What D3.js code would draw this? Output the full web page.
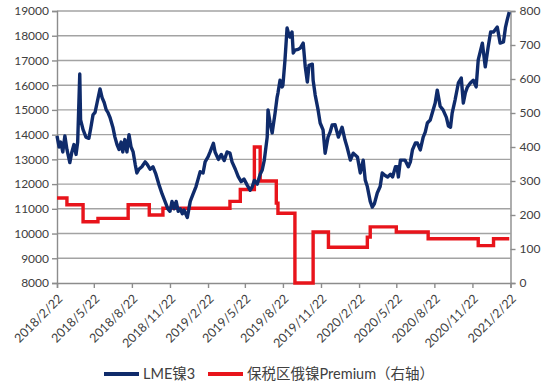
<!DOCTYPE html>
<html>
<head>
<meta charset="utf-8">
<script src="https://cdn.jsdelivr.net/npm/d3@7"></script>
<style>
  body { margin: 0; background: #fff; }
  text { font-family: Lato, "Noto Sans CJK SC", sans-serif; fill: #404040; }
</style>
</head>
<body>
<script>
// LME nickel 3M price (left axis)
var lmeDates = ["2018-02-22","2018-02-27","2018-03-03","2018-03-08","2018-03-13","2018-03-18","2018-03-25","2018-03-30",
  "2018-04-04","2018-04-09","2018-04-13","2018-04-18","2018-04-20","2018-04-26","2018-05-03","2018-05-10","2018-05-15",
  "2018-05-20","2018-05-25","2018-05-30","2018-06-06","2018-06-11","2018-06-16","2018-06-21","2018-06-25","2018-06-30",
  "2018-07-07","2018-07-12","2018-07-17","2018-07-22","2018-07-27","2018-07-31","2018-08-05","2018-08-10","2018-08-15",
  "2018-08-20","2018-08-25","2018-08-30","2018-09-03","2018-09-08","2018-09-15","2018-09-23","2018-09-28","2018-10-05",
  "2018-10-12","2018-10-19","2018-10-26","2018-11-03","2018-11-10","2018-11-17","2018-11-22","2018-11-27","2018-12-02",
  "2018-12-07","2018-12-12","2018-12-17","2018-12-22","2018-12-26","2019-01-03","2019-01-10","2019-01-17","2019-01-24",
  "2019-01-29","2019-02-03","2019-02-10","2019-02-15","2019-02-22","2019-02-27","2019-03-07","2019-03-11","2019-03-19",
  "2019-03-26","2019-04-02","2019-04-09","2019-04-16","2019-04-21","2019-04-29","2019-05-06","2019-05-13","2019-05-20",
  "2019-05-28","2019-06-04","2019-06-09","2019-06-14","2019-06-21","2019-06-28","2019-07-03","2019-07-08","2019-07-15",
  "2019-07-17","2019-07-22","2019-07-27","2019-08-03","2019-08-08","2019-08-10","2019-08-15","2019-08-20","2019-08-22",
  "2019-08-27","2019-09-01","2019-09-06","2019-09-08","2019-09-13","2019-09-16","2019-09-20","2019-09-28","2019-10-03",
  "2019-10-10","2019-10-15","2019-10-20","2019-10-24","2019-11-01","2019-11-03","2019-11-08","2019-11-15","2019-11-20",
  "2019-11-27","2019-12-02","2019-12-09","2019-12-14","2019-12-19","2019-12-26","2020-01-03","2020-01-12","2020-01-19",
  "2020-01-24","2020-02-01","2020-02-08","2020-02-18","2020-02-25","2020-03-03","2020-03-08","2020-03-13","2020-03-20",
  "2020-03-25","2020-03-30","2020-04-06","2020-04-13","2020-04-18","2020-04-25","2020-05-01","2020-05-08","2020-05-13",
  "2020-05-20","2020-05-24","2020-05-27","2020-06-01","2020-06-05","2020-06-12","2020-06-20","2020-06-25","2020-06-30",
  "2020-07-07","2020-07-12","2020-07-19","2020-07-26","2020-07-31","2020-08-05","2020-08-12","2020-08-19","2020-08-24",
  "2020-08-29","2020-09-05","2020-09-12","2020-09-20","2020-09-25","2020-09-30","2020-10-04","2020-10-11","2020-10-19",
  "2020-10-26","2020-10-31","2020-11-05","2020-11-10","2020-11-17","2020-11-24","2020-12-01","2020-12-06","2020-12-16",
  "2020-12-23","2020-12-30","2021-01-05","2021-01-12","2021-01-21","2021-01-28","2021-02-05","2021-02-10","2021-02-14",
  "2021-02-19"];
var lmeValues = [13950,13500,13700,13300,13950,13400,12870,13300,
  13600,13200,13700,16450,14600,14200,13900,13850,14300,
  14800,14900,15300,15850,15500,15300,15000,14900,14700,
  14300,13900,13600,13400,13700,13300,13800,13300,14000,
  13500,13300,12800,12450,12600,12700,12900,12800,12600,
  12700,12400,12000,11600,11300,11000,10900,11300,11000,
  11300,10900,11000,10800,10950,10650,11300,11600,11900,
  12200,12500,12450,12900,13100,13300,13650,13300,13000,
  13200,12950,13300,13250,12900,12600,12300,12100,12200,
  11950,11750,11900,12150,12000,12400,12570,12970,13900,
  15000,14470,14070,14870,15520,15680,16200,15930,16000,
  17020,18310,18000,17950,18150,17300,17420,17450,17500,
  17700,16740,16130,16800,16850,16200,15600,15000,14470,
  14190,13250,13900,14100,14390,14400,13900,14300,13780,
  13500,12970,13250,13100,12450,12970,12160,11900,11300,
  11070,11200,11640,11900,12450,12350,12290,12400,12290,
  12700,12700,12290,12970,12970,12970,12700,12900,13380,
  13660,13660,13380,13900,14100,14470,14590,15000,15280,
  15800,15150,15000,14700,14350,14300,14870,15400,16090,
  16290,15280,15700,15930,16090,16200,15930,17020,17700,
  16740,17540,18150,18150,18350,17700,17750,18350,18640,
  18960];

// bonded-zone Russian nickel premium (right axis), step changes
var premDates = ["2018-02-22","2018-03-18","2018-04-26","2018-06-01","2018-08-13","2018-10-03","2018-11-05",
  "2019-04-16","2019-05-11","2019-06-14","2019-06-28","2019-08-06","2019-08-10","2019-09-20","2019-11-03",
  "2019-12-10","2020-03-13","2020-03-20","2020-05-22","2020-08-07","2020-12-06","2021-01-12","2021-02-19"];
var premValues = [250,230,180,190,230,200,220,
  240,275,400,300,235,205,0,150,
  105,135,165,150,130,110,130,130];

var tickDates = ["2018-02-22","2018-05-22","2018-08-22","2018-11-22","2019-02-22","2019-05-22","2019-08-22",
  "2019-11-22","2020-02-22","2020-05-22","2020-08-22","2020-11-22","2021-02-22"];
var leftTicks = [8000,9000,10000,11000,12000,13000,14000,15000,16000,17000,18000,19000];
var rightTicks = [0,100,200,300,400,500,600,700,800];

var w = 550;
var h = 386;
var pLeft = 57, pRight = 510.5, pTop = 11, pBottom = 283;

var parse = d3.timeParse("%Y-%m-%d");
var fmt = d3.timeFormat("%Y/%-m/%-d");

var svg = d3.select("body").append("svg")
            .attr("width", w)
            .attr("height", h);

var x = d3.scaleTime()
          .domain([parse("2018-02-22"), parse("2021-02-22")])
          .range([pLeft, pRight]);
var yL = d3.scaleLinear().domain([8000, 19000]).range([pBottom, pTop]);
var yR = d3.scaleLinear().domain([0, 800]).range([pBottom, pTop]);

// horizontal grid
svg.append("g")
   .selectAll("line")
   .data(leftTicks.slice(1))
   .enter()
   .append("line")
   .attr("x1", pLeft).attr("x2", pRight)
   .attr("y1", function(d) { return yL(d); })
   .attr("y2", function(d) { return yL(d); })
   .attr("stroke", "#a3a3a3")
   .attr("stroke-width", 1.4);

// axes
var axL = svg.append("g")
   .attr("transform", "translate(" + pLeft + ",0)")
   .call(d3.axisLeft(yL).tickValues(leftTicks).tickFormat(d3.format("d")).tickSize(5).tickPadding(3));
var axR = svg.append("g")
   .attr("transform", "translate(" + pRight + ",0)")
   .call(d3.axisRight(yR).tickValues(rightTicks).tickSize(5).tickPadding(4));
var axB = svg.append("g")
   .attr("transform", "translate(0," + pBottom + ")")
   .call(d3.axisBottom(x).tickValues(tickDates.map(parse)).tickFormat(fmt).tickSize(5));

[axL, axR, axB].forEach(function(a) {
  a.select(".domain").attr("stroke", "#8c8c8c").attr("stroke-width", 1.4);
  a.selectAll(".tick line").attr("stroke", "#8c8c8c").attr("stroke-width", 1.4);
  a.selectAll("text").attr("font-size", 12).attr("fill", "#404040")
   .style("font-family", "Lato, sans-serif");
});

// rotated date labels, end of text hangs under the tick
axB.selectAll(".tick text")
   .attr("font-size", 12.5)
   .attr("text-anchor", "end")
   .attr("x", 0).attr("y", 0).attr("dy", 0)
   .attr("transform", "translate(6,16.5) rotate(-45)");

// premium step line
var lineR = d3.line()
   .x(function(d, i) { return x(parse(premDates[i])); })
   .y(function(d) { return yR(d); })
   .curve(d3.curveStepAfter);
svg.append("path")
   .datum(premValues)
   .attr("d", lineR)
   .attr("fill", "none")
   .attr("stroke", "#e8141b")
   .attr("stroke-width", 3.4);

// LME line
var lineL = d3.line()
   .x(function(d, i) { return x(parse(lmeDates[i])); })
   .y(function(d) { return yL(d); });
svg.append("path")
   .datum(lmeValues)
   .attr("d", lineL)
   .attr("fill", "none")
   .attr("stroke", "#0f2b6b")
   .attr("stroke-width", 3.4)
   .attr("stroke-linejoin", "round");

// legend
var legend = [
  { name: "LME镍3", color: "#0f2b6b", x: 104 },
  { name: "保税区俄镍Premium（右轴）", color: "#e8141b", x: 208 }
];
var lg = svg.append("g").selectAll("g")
   .data(legend)
   .enter()
   .append("g")
   .attr("transform", function(d) { return "translate(" + d.x + ",374)"; });
lg.append("line")
  .attr("x1", 0).attr("x2", 35)
  .attr("stroke", function(d) { return d.color; })
  .attr("stroke-width", 4);
lg.append("text")
  .attr("x", 39)
  .attr("dy", "0.35em")
  .attr("font-size", 14.5)
  .style("font-family", "Lato, 'Noto Sans CJK SC', sans-serif")
  .text(function(d) { return d.name; });
</script>
</body>
</html>
